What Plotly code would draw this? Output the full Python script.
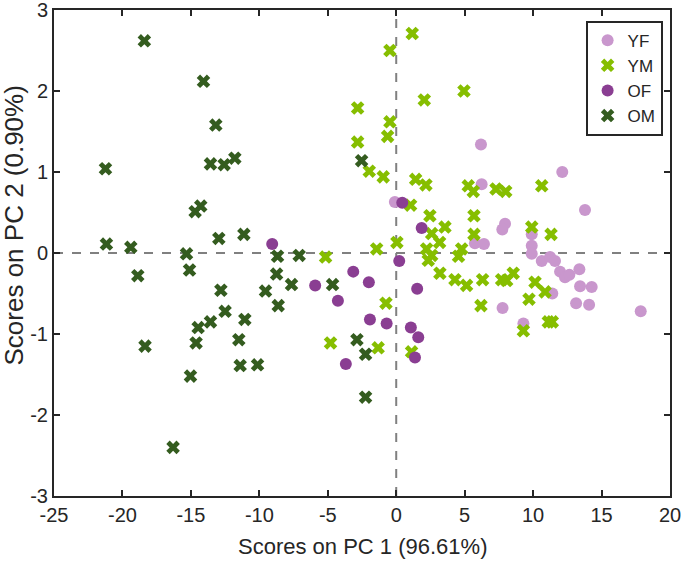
import plotly.graph_objects as go

# ---- data ----
yf_x = [-0.1, 6.24, 7.95, 7.75, 5.75, 6.41, 6.19, 12.13, 13.79, 9.9, 9.9, 9.9, 10.63, 11.24, 11.60,
        11.97, 12.33, 12.65, 13.38, 13.43, 14.28, 11.40, 13.14, 14.09, 17.86, 9.29, 7.77]
yf_y = [0.63, 0.85, 0.36, 0.29, 0.12, 0.11, 1.34, 1.00, 0.53, 0.23, 0.09, -0.01, -0.10, -0.05, -0.10,
        -0.23, -0.30, -0.27, -0.20, -0.41, -0.42, -0.50, -0.62, -0.64, -0.72, -0.87, -0.68]

ym_x = [1.17, -0.46, 4.95, 2.05, -2.82, -0.46, -0.63, -2.82, -1.97, -0.95, 1.42, 2.17, 5.26, 5.63,
        7.29, 8.0, 10.63, 1.05, 2.46, 3.56, 2.59, 3.17, 5.68, 5.68, 9.90, 11.31, 0.05, -1.43, 2.22,
        4.78, 2.59, 2.34, 4.55, 3.19, 4.29, 5.14, 6.31, 7.70, 8.07, 8.55, 6.19, 10.14, 10.87, 9.70,
        9.29, 11.11, 11.40, -0.75, -1.32, 1.12, -5.16, -4.80]
ym_y = [2.71, 2.50, 2.00, 1.89, 1.79, 1.62, 1.44, 1.37, 1.01, 0.94, 0.91, 0.84, 0.83, 0.76,
        0.79, 0.76, 0.83, 0.59, 0.46, 0.32, 0.24, 0.13, 0.46, 0.23, 0.32, 0.23, 0.13, 0.05, 0.05,
        0.05, -0.03, -0.09, -0.04, -0.25, -0.33, -0.40, -0.33, -0.33, -0.34, -0.25, -0.65, -0.36, -0.48, -0.57,
        -0.96, -0.85, -0.85, -0.62, -1.17, -1.22, -0.05, -1.11]

of_x = [-9.06, -5.92, -3.14, -2.0, -4.26, -1.92, -0.70, -3.68, 0.22, 1.53, 1.07, 1.61, 1.37, 0.44, 1.86]
of_y = [0.11, -0.40, -0.23, -0.36, -0.59, -0.82, -0.87, -1.37, -0.10, -0.44, -0.92, -1.04, -1.29, 0.62, 0.31]

om_x = [-18.4, -14.08, -13.18, -21.24, -13.57, -12.57, -11.79, -2.53, -14.69, -14.28, -21.17, -19.39,
        -12.96, -11.13, -15.32, -8.67, -7.09, -18.88, -15.10, -12.81, -8.74, -9.55, -7.65, -4.65,
        -8.62, -12.50, -13.57, -14.47, -11.06, -14.62, -11.50, -18.35, -11.40, -10.13, -15.03,
        -16.30, -2.87, -2.24, -2.24]
om_y = [2.62, 2.12, 1.58, 1.04, 1.10, 1.09, 1.17, 1.14, 0.51, 0.58, 0.11, 0.07,
        0.18, 0.23, -0.01, -0.04, -0.03, -0.28, -0.21, -0.46, -0.26, -0.47, -0.39, -0.39,
        -0.65, -0.72, -0.85, -0.92, -0.82, -1.11, -1.07, -1.15, -1.39, -1.38, -1.52,
        -2.40, -1.07, -1.25, -1.78]

x_ticks = [-25, -20, -15, -10, -5, 0, 5, 10, 15, 20]
y_ticks = [-3, -2, -1, 0, 1, 2, 3]
x_title = "Scores on PC 1 (96.61%)"
y_title = "Scores on PC 2 (0.90%)"

FONT = "Liberation Sans, Arial, sans-serif"
TXT = "#262626"
fig = go.Figure()
series = [
    ("YF", yf_x, yf_y, "circle", "#C997CD", 12),
    ("YM", ym_x, ym_y, "x", "#86BE00", 12),
    ("OF", of_x, of_y, "circle", "#8A3E92", 12),
    ("OM", om_x, om_y, "x", "#345C1F", 12),
]
for name, xs, ys, sym, col, sz in series:
    fig.add_trace(go.Scatter(x=xs, y=ys, mode="markers", name=name,
                             marker=dict(symbol=sym, color=col, size=sz, line=dict(width=0))))

fig.add_shape(type="line", xref="x", yref="paper", x0=0, x1=0, y0=0, y1=1,
              line=dict(color="#808080", width=2, dash="dash"), layer="below")
fig.add_shape(type="line", xref="paper", yref="y", x0=0, x1=1, y0=0, y1=0,
              line=dict(color="#808080", width=2, dash="dash"), layer="below")

axis_common = dict(showgrid=False, zeroline=False, showline=True, linecolor=TXT, linewidth=2,
                   mirror="ticks", ticks="inside", ticklen=6, tickwidth=2, tickcolor=TXT,
                   automargin=False, ticklabeloverflow="allow",
                   tickfont=dict(family=FONT, size=20, color=TXT))
fig.update_xaxes(range=[-25, 20], tickvals=x_ticks, ticktext=[str(v) for v in x_ticks], **axis_common)
fig.update_yaxes(range=[-3, 3], tickvals=y_ticks, ticktext=[str(v) for v in y_ticks], **axis_common)

fig.add_annotation(text=x_title, xref="paper", yref="paper", x=0.5, y=-0.103,
                   xanchor="center", yanchor="middle", showarrow=False,
                   font=dict(family=FONT, size=22, color=TXT))
fig.add_annotation(text=y_title, xref="paper", yref="paper", x=-0.0654, y=0.556,
                   xanchor="center", yanchor="middle", textangle=-90, showarrow=False,
                   font=dict(family=FONT, size=26, color=TXT))

fig.update_layout(width=685, height=561, margin=dict(l=54, r=15, t=10, b=65),
                  plot_bgcolor="white", paper_bgcolor="white",
                  legend=dict(x=0.988, y=0.978, xanchor="right", yanchor="top", bgcolor="white",
                              bordercolor=TXT, borderwidth=2,
                              font=dict(family=FONT, size=17, color=TXT), tracegroupgap=0))
fig.write_html("out.html", config={"displayModeBar": False},
               post_script="document.body.style.margin='0';document.body.style.padding='0';")
